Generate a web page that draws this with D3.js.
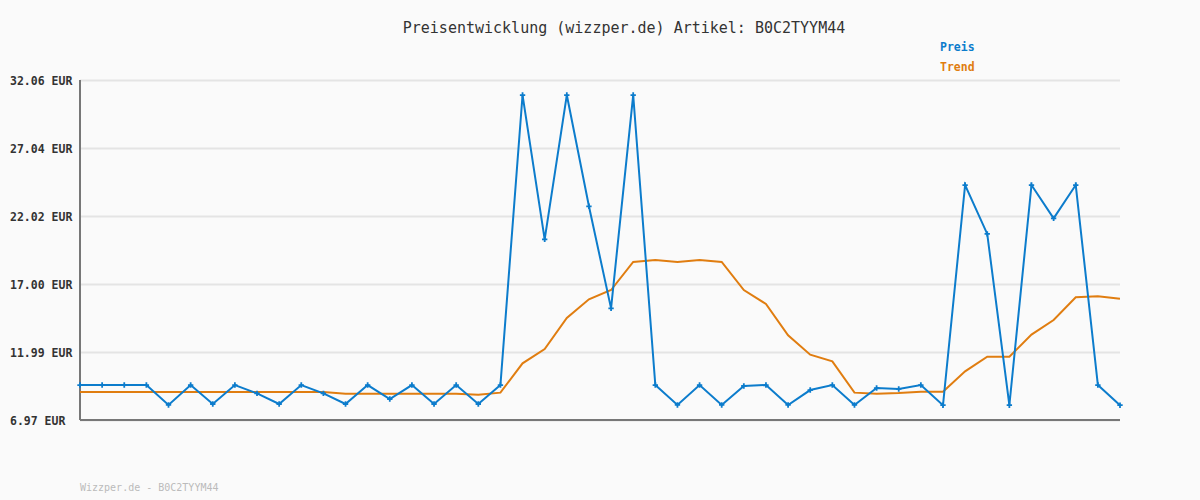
<!DOCTYPE html>
<html>
<head>
<meta charset="utf-8">
<script src="https://cdn.jsdelivr.net/npm/d3@7"></script>
<style>
  body { margin: 0; background: #fafafa; }
  svg { display: block; }
</style>
</head>
<body>
<div class="chart"></div>
<script>
// Data (one point per sample, no x labels shown)
const samples = d3.range(48);
const preis = [9.55, 9.55, 9.55, 9.55, 8.08, 9.55, 8.15, 9.55, 8.93, 8.15,
  9.55, 8.93, 8.15, 9.55, 8.52, 9.55, 8.15, 9.55, 8.15, 9.55,
  30.95, 20.30, 30.95, 22.74, 15.21, 30.95, 9.55, 8.08, 9.55, 8.08,
  9.48, 9.55, 8.08, 9.18, 9.55, 8.08, 9.33, 9.26, 9.55, 8.06,
  24.31, 20.70, 8.06, 24.31, 21.85, 24.31, 9.55, 8.06];
const trend = [9.04, 9.04, 9.04, 9.04, 9.04, 9.04, 9.04, 9.04, 9.04, 9.04,
  9.04, 9.04, 8.91, 8.91, 8.91, 8.91, 8.91, 8.91, 8.84, 8.99,
  11.15, 12.21, 14.50, 15.88, 16.56, 18.63, 18.78, 18.63, 18.78, 18.63,
  16.56, 15.53, 13.22, 11.79, 11.30, 8.99, 8.91, 8.96, 9.06, 9.06,
  10.56, 11.64, 11.64, 13.27, 14.35, 16.03, 16.10, 15.92];
const yTicks = [6.97, 11.99, 17.00, 22.02, 27.04, 32.06];
const seriesNames = ["Preis", "Trend"];

const W = 1200, H = 500;
const margin = {top: 80, left: 80, bottom: 80, right: 80};
const blue = "#0c7ccc", orange = "#e07d10";
const mono = "'DejaVu Sans Mono', 'Liberation Mono', monospace";

const svg = d3.select(".chart").append("svg")
  .attr("width", W).attr("height", H)
  .style("background", "#fafafa");

const x = d3.scaleLinear()
  .domain([0, samples.length - 1])
  .range([margin.left, W - margin.right]);
const y = d3.scaleLinear()
  .domain([yTicks[0], yTicks[yTicks.length - 1]])
  .range([H - margin.bottom, margin.top]);

//grid lines
const grid = svg.append("g")
  .attr("transform", `translate(${margin.left},0)`)
  .call(d3.axisLeft(y).tickValues(yTicks).tickSize(-(W - margin.left - margin.right)).tickFormat(""));
grid.select(".domain").remove();
grid.selectAll(".tick line").attr("stroke", "#e4e4e4").attr("stroke-width", 2);

//y axis labels, left aligned
const yAxis = svg.append("g")
  .attr("transform", `translate(${margin.left},0)`)
  .call(d3.axisLeft(y).tickValues(yTicks).tickSize(0).tickFormat(d => d.toFixed(2) + " EUR"));
yAxis.select(".domain").remove();
yAxis.selectAll("text")
  .attr("x", -70).attr("dy", "0.35em")
  .attr("text-anchor", "start")
  .style("font-family", mono).style("font-size", "11.5px").style("font-weight", "bold")
  .attr("fill", "#333");

//axis lines
svg.append("line")
  .attr("x1", margin.left).attr("x2", margin.left)
  .attr("y1", y(yTicks[yTicks.length - 1])).attr("y2", y(yTicks[0]))
  .attr("stroke", "#777").attr("stroke-width", 2);
svg.append("line")
  .attr("x1", margin.left).attr("x2", W - margin.right)
  .attr("y1", y(yTicks[0])).attr("y2", y(yTicks[0]))
  .attr("stroke", "#777").attr("stroke-width", 2);

const line = d3.line().x((d, i) => x(samples[i])).y(d => y(d));

svg.append("path").datum(trend)
  .attr("fill", "none").attr("stroke", orange).attr("stroke-width", 2)
  .attr("d", line);

svg.append("path").datum(preis)
  .attr("fill", "none").attr("stroke", blue).attr("stroke-width", 2)
  .attr("d", line);

svg.selectAll(".marker").data(preis).enter()
  .append("path")
  .attr("class", "marker")
  .attr("transform", (d, i) => `translate(${x(samples[i])},${y(d)})`)
  .attr("d", d3.symbol().type(d3.symbolCross).size(16))
  .attr("fill", blue);

//title
svg.append("text")
  .attr("x", 624).attr("y", 33)
  .attr("text-anchor", "middle")
  .style("font-family", mono).style("font-size", "15px")
  .attr("fill", "#333")
  .text("Preisentwicklung (wizzper.de) Artikel: B0C2TYYM44");

//legend
svg.selectAll(".legend").data(seriesNames).enter()
  .append("text")
  .attr("class", "legend")
  .attr("x", 940).attr("y", (d, i) => 51 + i * 20)
  .style("font-family", mono).style("font-size", "11.5px").style("font-weight", "bold")
  .attr("fill", (d, i) => i === 0 ? blue : orange)
  .text(d => d);

//footer
svg.append("text")
  .attr("x", 80).attr("y", 491)
  .style("font-family", mono).style("font-size", "10px")
  .attr("fill", "#bbb")
  .text("Wizzper.de - B0C2TYYM44");
</script>
</body>
</html>
